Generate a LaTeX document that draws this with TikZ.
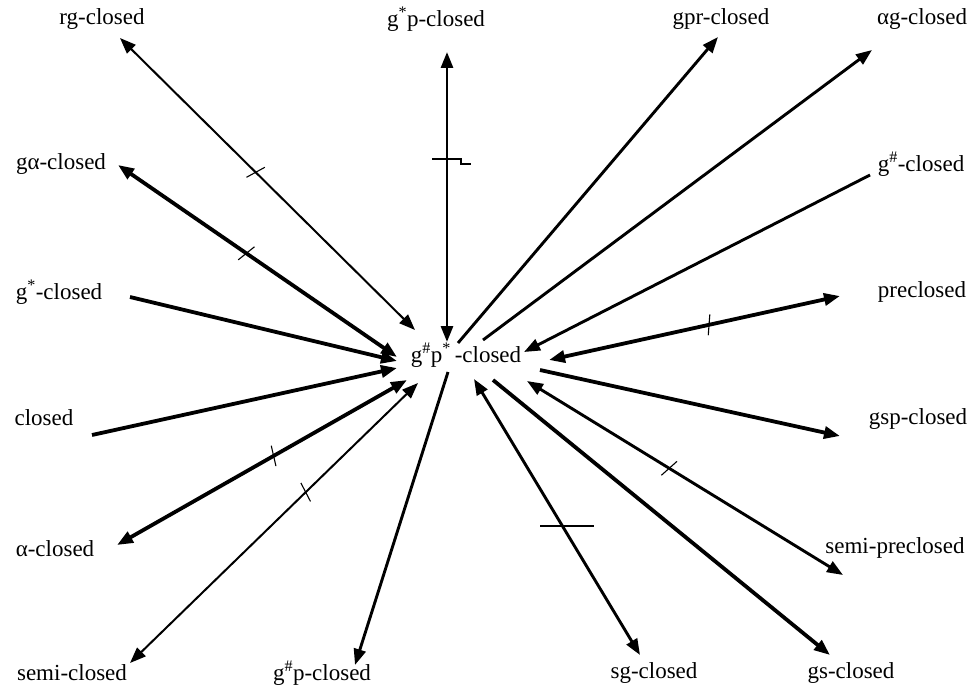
\documentclass[tikz,border=0pt]{standalone}
\usepackage{fontspec}
\setmainfont{Liberation Serif}
\usetikzlibrary{arrows.meta,decorations.markings}
\tikzset{
  lbl/.style={inner sep=0pt, font=\fontsize{23}{26}\selectfont},
  thk/.style={line width=3.8pt},
  mid/.style={line width=2.9pt},
  thn/.style={line width=2pt},
  tip/.style={>={Triangle[length=16pt,width=12pt]}},
  negmark/.style={postaction={decorate}, decoration={markings,
     mark=at position #1 with {\draw[line width=1.1pt,-] (-3pt,-10pt) -- (3pt,10pt);}}},
  crossbar/.style={line width=1.3pt}
}
\begin{document}
\begin{tikzpicture}[x=1pt,y=-1pt,tip]
\useasboundingbox (0,0) rectangle (974,690);
% labels
\node[lbl] (rg)   at (102,19) {rg-closed};
\node[lbl] (gsp1) at (436,19) {g\textsuperscript{*}p-closed};
\node[lbl] (gpr)  at (721,19) {gpr-closed};
\node[lbl] (ag)   at (922,19) {αg-closed};
\node[lbl] (ga)   at (61,164) {gα-closed};
\node[lbl] (gh)   at (921,164){g\textsuperscript{\#}-closed};
\node[lbl] (gs1)  at (59,292) {g\textsuperscript{*}-closed};
\node[lbl] (pre)  at (922,292){preclosed};
\node[lbl] (ctr)  at (466,355){g\textsuperscript{\#}p\textsuperscript{*}\,-closed};
\node[lbl] (cl)   at (44,418) {closed};
\node[lbl] (gsp)  at (918,419){gsp-closed};
\node[lbl] (al)   at (55,549) {α-closed};
\node[lbl] (spc)  at (895,548){semi-preclosed};
\node[lbl] (sc)   at (72,673) {semi-closed};
\node[lbl] (ghp)  at (322,673){g\textsuperscript{\#}p-closed};
\node[lbl] (sg)   at (654,673){sg-closed};
\node[lbl] (gsc)  at (851,673){gs-closed};
% endpoints
\coordinate (rgA) at (120,38);  \coordinate (rgB) at (415,330);
\coordinate (gaA) at (118,165); \coordinate (gaB) at (397,357);
\coordinate (gsA) at (130,297); \coordinate (gsB) at (397,361);
\coordinate (clA) at (92,435);  \coordinate (clB) at (397,368);
\coordinate (alA) at (117,545); \coordinate (alB) at (407,380);
\coordinate (scA) at (130,663); \coordinate (scB) at (418,383);
\coordinate (hpA) at (448,372); \coordinate (hpB) at (355,665);
\coordinate (sgA) at (474,379); \coordinate (sgB) at (640,655);
\coordinate (gcA) at (493,380); \coordinate (gcB) at (830,655);
\coordinate (spA) at (527,381); \coordinate (spB) at (843,575);
\coordinate (gpA) at (540,370); \coordinate (gpB) at (840,436);
\coordinate (prA) at (549,360); \coordinate (prB) at (840,296);
\coordinate (ghA) at (870,175); \coordinate (ghB) at (524,352);
\coordinate (agA) at (483,340); \coordinate (agB) at (872,50);
\coordinate (grA) at (458,343); \coordinate (grB) at (718,37);
\coordinate (vpA) at (447,52);  \coordinate (vpB) at (447,342);
% connectors
\draw[thn,<->,negmark=0.46] (rgA) -- (rgB);
\draw[thk,<->,negmark=0.46] (gaA) -- (gaB);
\draw[thk,->] (gsA) -- (gsB);
\draw[thk,->] (clA) -- (clB);
\draw[thk,<->,negmark=0.54] (alA) -- (alB);
\draw[thn,<->,negmark=0.61] (scA) -- (scB);
\draw[mid,->] (hpA) -- (hpB);
\draw[mid,<->] (sgA) -- (sgB);
\draw[thk,->] (gcA) -- (gcB);
\draw[mid,<->,negmark=0.45] (spA) -- (spB);
\draw[thk,->] (gpA) -- (gpB);
\draw[thk,<->,negmark=0.55] (prA) -- (prB);
\draw[mid,->] (ghA) -- (ghB);
\draw[mid,->] (agA) -- (agB);
\draw[mid,->] (grA) -- (grB);
\draw[mid,<->] (vpA) -- (vpB);
% cross bars
\draw[crossbar] (432,159) -- (461,159) -- (461,164) -- (471,164);
\draw[crossbar] (540,526) -- (594,526);
\end{tikzpicture}
\end{document}
